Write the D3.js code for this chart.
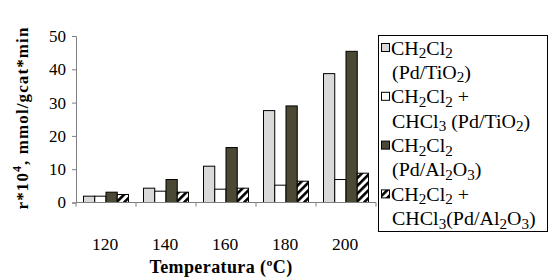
<!DOCTYPE html>
<html>
<head>
<meta charset="utf-8">
<script src="https://cdn.jsdelivr.net/npm/d3@7"></script>
<style>
    body { margin: 0; background: #fff; }
    svg { display: block; }
</style>
</head>
<body>
<div id="chart"></div>
<script>
// data
const temperatures = ["120", "140", "160", "180", "200"];
const seriesKeys = ["ch2cl2Ti", "mixTi", "ch2cl2Al", "mixAl"];
const ch2cl2Ti = [1.9, 4.3, 10.9, 27.6, 38.7];
const mixTi = [1.9, 3.4, 4.0, 5.2, 6.9];
const ch2cl2Al = [3.1, 6.9, 16.5, 29.0, 45.4];
const mixAl = [2.4, 3.1, 4.3, 6.4, 8.8];
const yTicks = [0, 10, 20, 30, 40, 50];
// legend lines, "_" marks a subscript digit
const legendLines = [
    ["CH_2Cl_2", "(Pd/TiO_2)"],
    ["CH_2Cl_2 +", "CHCl_3 (Pd/TiO_2)"],
    ["CH_2Cl_2", "(Pd/Al_2O_3)"],
    ["CH_2Cl_2 +", "CHCl_3(Pd/Al_2O_3)"]
];

const values = { ch2cl2Ti, mixTi, ch2cl2Al, mixAl };
const fills = { ch2cl2Ti: "#d9d9d9", mixTi: "#ffffff", ch2cl2Al: "#4b4834", mixAl: "url(#hatch)" };
const serif = "Liberation Serif";

const width = 555, height = 280;
const svg = d3.select("#chart").append("svg")
    .attr("width", width)
    .attr("height", height)
    .attr("font-family", serif);

// hatch pattern for the last series
const defs = svg.append("defs");
const pat = defs.append("pattern")
    .attr("id", "hatch")
    .attr("patternUnits", "userSpaceOnUse")
    .attr("width", 5.5)
    .attr("height", 5.5)
    .attr("patternTransform", "rotate(45)");
pat.append("rect").attr("width", 5.5).attr("height", 5.5).attr("fill", "#fff");
pat.append("rect").attr("width", 2.6).attr("height", 5.5).attr("fill", "#000");

const x = d3.scaleBand()
    .domain(temperatures)
    .range([76, 376])
    .paddingInner(0.25)
    .paddingOuter(0.125);

const xInner = d3.scaleBand()
    .domain(seriesKeys)
    .range([0, x.bandwidth()]);

const y = d3.scaleLinear()
    .domain([0, 50])
    .range([202.5, 36]);

// bars
const groups = svg.append("g").selectAll("g")
    .data(temperatures)
    .enter().append("g")
    .attr("transform", d => `translate(${x(d)},0)`);

groups.selectAll("rect")
    .data((t, i) => seriesKeys.map(k => ({ key: k, value: values[k][i] })))
    .enter().append("rect")
    .attr("x", d => xInner(d.key))
    .attr("y", d => y(d.value))
    .attr("width", xInner.bandwidth())
    .attr("height", d => y(0) - y(d.value))
    .attr("fill", d => fills[d.key])
    .attr("stroke", "#000")
    .attr("stroke-width", 1);

// y axis
const yAxis = svg.append("g")
    .attr("transform", "translate(76,0)")
    .call(d3.axisLeft(y).tickValues(yTicks).tickSize(4).tickPadding(6));
yAxis.attr("font-family", serif).attr("font-size", 17);
yAxis.selectAll("text").attr("fill", "#000");
yAxis.selectAll("line, path").attr("stroke", "#808080");

// x axis: ticks at category boundaries
const xAxis = svg.append("g").attr("transform", `translate(0,${y(0)})`);
xAxis.append("line")
    .attr("x1", 76).attr("x2", 376)
    .attr("stroke", "#808080");
const bounds = temperatures.map(t => x(t) - x.step() * x.paddingInner() / 2).concat([376]);
xAxis.selectAll(".tick")
    .data(bounds)
    .enter().append("line")
    .attr("x1", d => d).attr("x2", d => d)
    .attr("y1", 0).attr("y2", 4)
    .attr("stroke", "#808080");
xAxis.selectAll(".lab")
    .data(temperatures)
    .enter().append("text")
    .attr("x", d => x(d) + x.bandwidth() / 2 - 1)
    .attr("y", 47)
    .attr("text-anchor", "middle")
    .attr("font-size", 17.5)
    .text(d => d);

// axis titles
svg.append("text")
    .attr("x", 221)
    .attr("y", 273)
    .attr("text-anchor", "middle")
    .attr("font-size", 18)
    .attr("font-weight", "bold")
    .attr("letter-spacing", 0.4)
    .text("Temperatura (ºC)");

const yTitle = svg.append("text")
    .attr("transform", "translate(28,118) rotate(-90)")
    .attr("text-anchor", "middle")
    .attr("font-size", 17)
    .attr("font-weight", "bold")
    .attr("letter-spacing", 1.1);
yTitle.append("tspan").text("r*10");
yTitle.append("tspan").attr("dy", -7).attr("font-size", 12).text("4");
yTitle.append("tspan").attr("dy", 7).text(", mmol/gcat*min");

// legend
const legend = svg.append("g");
legend.append("rect")
    .attr("x", 378.5).attr("y", 35.5)
    .attr("width", 169).attr("height", 196)
    .attr("fill", "#fff")
    .attr("stroke", "#000");

function writeLine(sel, str) {
    let shifted = false;
    str.split(/(_\d)/).forEach(part => {
        if (!part) return;
        if (part[0] === "_") {
            sel.append("tspan").attr("dy", shifted ? 0 : 3.5).attr("font-size", 14).text(part.slice(1));
            shifted = true;
        } else {
            sel.append("tspan").attr("dy", shifted ? -3.5 : 0).text(part);
            shifted = false;
        }
    });
}

seriesKeys.forEach((k, i) => {
    const top = 48.5 + i * 48.8;
    legend.append("rect")
        .attr("x", 381.5).attr("y", top - 5)
        .attr("width", 8).attr("height", 8)
        .attr("fill", fills[k])
        .attr("stroke", "#000");
    legendLines[i].forEach((line, j) => {
        const t = legend.append("text")
            .attr("transform", `translate(${j === 0 ? 391 : 392},${top + 6 + j * 24.3}) scale(1.08,1)`)
            .attr("font-size", 18.5);
        writeLine(t, line);
    });
});
</script>
</body>
</html>
